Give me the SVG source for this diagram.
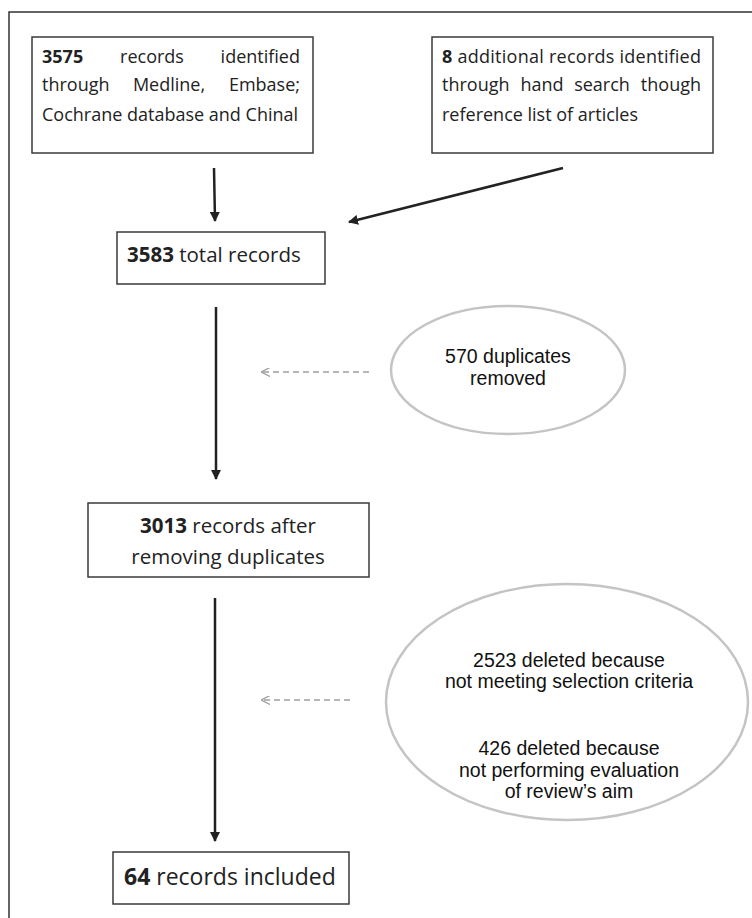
<svg xmlns="http://www.w3.org/2000/svg" width="752" height="918" viewBox="0 0 752 918">
<defs>
<style>
.box{fill:#fff;stroke:#3a3a3a;stroke-width:1.5}
.t{font-family:"Open Sans","Noto Sans",sans-serif;fill:#222}
.b{font-weight:bold}
.ell{fill:#fff;stroke:#c4c4c4;stroke-width:2.5}
.et{font-family:"Liberation Sans",Arial,sans-serif;font-size:19.5px;fill:#111;text-anchor:middle}
.arr{stroke:#222;stroke-width:2.5;fill:none;marker-end:url(#ah)}
.dash{stroke:#a0a0a0;stroke-width:1.5;stroke-dasharray:6 4;fill:none;marker-end:url(#dh)}
</style>
<marker id="ah" viewBox="0 0 10 10" refX="9" refY="5" markerWidth="4" markerHeight="4" orient="auto" markerUnits="strokeWidth">
<path d="M0,0 L10,5 L0,10 z" fill="#222"/>
</marker>
<marker id="dh" viewBox="0 0 10 10" refX="9" refY="5" markerWidth="6" markerHeight="6" orient="auto" markerUnits="strokeWidth">
<path d="M10,0 L0,5 L10,10" fill="none" stroke="#a0a0a0" stroke-width="1.5" transform="translate(10,0) scale(-1,1)"/>
</marker>
</defs>
<rect width="752" height="918" fill="#fff"/>
<path d="M9,918 V12 H752" fill="none" stroke="#333" stroke-width="1.5"/>

<g id="connectors">
<line class="arr" x1="214" y1="168" x2="215" y2="221"/>
<line class="arr" x1="563" y1="168" x2="349" y2="222"/>
<line class="arr" x1="216" y1="307" x2="216" y2="479"/>
<line class="arr" x1="215" y1="598" x2="215" y2="841"/>
<line class="dash" x1="369" y1="372" x2="262" y2="372"/>
<line class="dash" x1="350" y1="700" x2="262" y2="700"/>
</g>

<g id="n1">
<rect class="box" x="32" y="37" width="281" height="116"/>
<g class="t" font-size="18">
<text x="42" y="63" class="b">3575</text>
<text x="152" y="63" text-anchor="middle">records</text>
<text x="300" y="63" text-anchor="end">identified</text>
<text x="42" y="91">through</text>
<text x="169" y="91" text-anchor="middle">Medline,</text>
<text x="300" y="91" text-anchor="end">Embase;</text>
<text x="42" y="121">Cochrane database and Chinal</text>
</g>
</g>

<g id="n2">
<rect class="box" x="432" y="37" width="281" height="116"/>
<g class="t" font-size="18">
<text x="442" y="63" textLength="259" lengthAdjust="spacing"><tspan class="b">8</tspan> additional records identified</text>
<text x="442" y="91">through</text>
<text x="542" y="91" text-anchor="middle">hand</text>
<text x="602" y="91" text-anchor="middle">search</text>
<text x="701" y="91" text-anchor="end">though</text>
<text x="442" y="121">reference list of articles</text>
</g>
</g>

<g id="n3">
<rect class="box" x="117" y="232" width="208" height="52"/>
<text class="t" x="127" y="262" font-size="20.5"><tspan class="b">3583</tspan> total records</text>
</g>

<g id="n4">
<ellipse class="ell" cx="508" cy="370" rx="117" ry="64"/>
<text class="et" x="508" y="363">570 duplicates</text>
<text class="et" x="508" y="385">removed</text>
</g>

<g id="n5">
<rect class="box" x="88" y="503" width="281" height="74"/>
<g class="t" font-size="20.5" text-anchor="middle">
<text x="228" y="533"><tspan class="b">3013</tspan> records after</text>
<text x="228" y="564">removing duplicates</text>
</g>
</g>

<g id="n6">
<ellipse class="ell" cx="567" cy="702" rx="181" ry="118"/>
<text class="et" x="569" y="667">2523 deleted because</text>
<text class="et" x="569" y="688">not meeting selection criteria</text>
<text class="et" x="569" y="755">426 deleted because</text>
<text class="et" x="569" y="777">not performing evaluation</text>
<text class="et" x="569" y="798">of review’s aim</text>
</g>

<g id="n7">
<rect class="box" x="113" y="852" width="236" height="52"/>
<text class="t" x="124" y="885" font-size="23"><tspan class="b">64</tspan> records included</text>
</g>
</svg>
